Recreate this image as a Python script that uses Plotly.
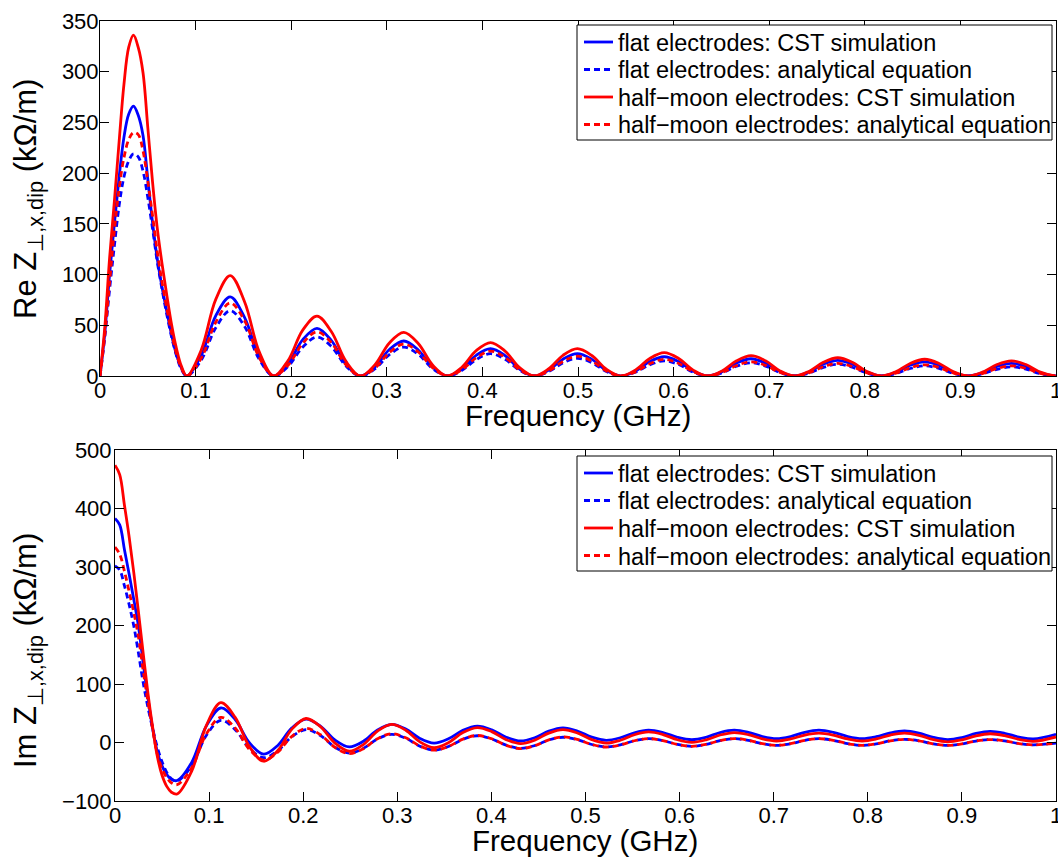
import plotly.graph_objects as go

# ---------------- data ----------------
top_freq = [0, 0.005, 0.010, 0.015, 0.020, 0.025, 0.030, 0.035, 0.040, 0.045, 0.050, 0.055, 0.060,
            0.065, 0.070, 0.075, 0.080, 0.085, 0.0908,
            0.1059, 0.1211, 0.1362, 0.1513, 0.1665, 0.1816,
            0.1967, 0.2119, 0.2270, 0.2421, 0.2573, 0.2724,
            0.2875, 0.3027, 0.3178, 0.3329, 0.3481, 0.3632,
            0.3783, 0.3935, 0.4086, 0.4237, 0.4389, 0.4540,
            0.4691, 0.4843, 0.4994, 0.5145, 0.5297, 0.5448,
            0.5599, 0.5751, 0.5902, 0.6053, 0.6205, 0.6356,
            0.6507, 0.6659, 0.6810, 0.6961, 0.7113, 0.7264,
            0.7415, 0.7567, 0.7718, 0.7869, 0.8021, 0.8172,
            0.8323, 0.8475, 0.8626, 0.8777, 0.8929, 0.9080,
            0.9231, 0.9383, 0.9534, 0.9685, 0.9837, 0.9988, 1.0]

re_flat_cst = [0, 42, 100, 150, 196, 235, 258, 266, 257, 237, 194, 151, 115, 87, 63, 40, 21, 8, 0,
               20.2, 59.4, 78, 57.6, 19.2, 0,
               12.1, 35.6, 47, 34.9, 11.6, 0,
               8.8, 26.1, 34.5, 25.6, 8.5, 0,
               6.9, 20.4, 27, 20.1, 6.7, 0,
               5.6, 16.6, 22, 16.4, 5.4, 0,
               4.8, 14.3, 19, 14.2, 4.7, 0,
               4.3, 12.8, 17, 12.7, 4.2, 0,
               3.9, 11.7, 15.5, 11.6, 3.8, 0,
               3.5, 10.6, 14, 10.5, 3.5, 0,
               3.2, 9.4, 12.5, 9.3, 3.1, 0, 0]

re_flat_ana = [0, 38, 85, 128, 168, 196, 212, 219, 216, 202, 176, 145, 112, 85, 60, 38, 20, 7, 0,
               15.7, 47.5, 64.5, 48.8, 16.5, 0,
               9.4, 28.3, 38.5, 29, 9.8, 0,
               7, 21, 28.5, 21.4, 7.2, 0,
               5.4, 16.2, 22, 16.5, 5.6, 0,
               4.3, 12.9, 17.5, 13.2, 4.4, 0,
               3.7, 11, 15, 11.3, 3.8, 0,
               3.2, 9.6, 13, 9.8, 3.3, 0,
               2.8, 8.5, 11.5, 8.6, 2.9, 0,
               2.4, 7.4, 10, 7.5, 2.5, 0,
               2.2, 6.6, 9, 6.8, 2.3, 0, 0]

re_moon_cst = [0, 48, 116, 172, 231, 287, 324, 336, 324, 299, 245, 191, 145, 110, 79, 50, 27, 10, 0,
               25.6, 75.5, 99, 73, 24, 0,
               15.2, 45, 59, 43.6, 14.4, 0,
               11, 32.6, 43, 32, 10.6, 0,
               8.4, 25, 33, 24.6, 8.2, 0,
               6.9, 20.4, 27, 20.2, 6.7, 0,
               5.8, 17.3, 23, 17.3, 5.8, 0,
               5, 15, 20, 15, 5, 0,
               4.5, 13.5, 18, 13.5, 4.5, 0,
               4.1, 12.4, 16.5, 12.4, 4.1, 0,
               3.8, 11.3, 15, 11.3, 3.8, 0, 0]

re_moon_ana = [0, 40, 92, 143, 185, 215, 233, 240, 238, 222, 192, 158, 122, 92, 66, 42, 22, 8, 0,
               17.6, 53, 72, 54.5, 18.4, 0,
               10.6, 32, 43.5, 32.8, 11, 0,
               7.7, 23.2, 31.5, 23.7, 8, 0,
               6, 18, 24.5, 18.4, 6.2, 0,
               4.8, 14.4, 19.5, 14.7, 4.9, 0,
               4, 12.1, 16.5, 12.4, 4.2, 0,
               3.4, 10.3, 14, 10.5, 3.5, 0,
               3.1, 9.2, 12.5, 9.4, 3.2, 0,
               2.7, 8.1, 11, 8.3, 2.8, 0,
               2.4, 7.4, 10, 7.5, 2.5, 0, 0]

bot_freq = [0, 0.005, 0.010, 0.015, 0.020, 0.025, 0.030, 0.035, 0.040, 0.045, 0.050, 0.055, 0.060, 0.066,
            0.0815, 0.097, 0.1125,
            0.1277, 0.1428, 0.158,
            0.173, 0.188, 0.203,
            0.2183, 0.2337, 0.249,
            0.264, 0.279, 0.294,
            0.309, 0.324, 0.339,
            0.3543, 0.3697, 0.385,
            0.4003, 0.4157, 0.431,
            0.446, 0.461, 0.476,
            0.4913, 0.5067, 0.522,
            0.537, 0.552, 0.567,
            0.5823, 0.5977, 0.613,
            0.628, 0.643, 0.658,
            0.673, 0.688, 0.703,
            0.718, 0.733, 0.748,
            0.7633, 0.7787, 0.794,
            0.809, 0.824, 0.839,
            0.8543, 0.8697, 0.885,
            0.900, 0.915, 0.930,
            0.9453, 0.9607, 0.976,
            1.0]

im_flat_cst = [383, 372, 330, 288, 244, 198, 135, 76, 24, -16, -40, -55, -63, -65,
               -34, 28, 59, 39.3, -0.3, -20, -5, 25, 40, 28.1, 4.3, -7.6,
               2.1, 21.4, 31, 23, 7, -1, 6.3, 20.8, 28, 21.7, 9, 2.6,
               8.2, 19.4, 25, 19.7, 9.1, 3.8, 8.1, 16.7, 21, 17, 9, 5,
               9, 17, 21, 17.4, 10.2, 6.6, 10.2, 17.4, 21, 17.4, 10.2, 6.6,
               9.9, 16.4, 19.7, 16, 8.7, 5, 8.5, 15.5, 19, 15.8, 9.3, 6, 14]

im_flat_ana = [302, 295, 268, 236, 199, 152, 102, 60, 24, -8, -33, -51, -62, -66,
               -40, 12, 38, 22, -10, -26, -14, 10, 22, 12, -8, -18,
               -10, 6, 14, 7.3, -6.3, -13, -6.9, 5.4, 11.5, 6.1, -4.6, -10,
               -5.3, 4.3, 9, 4.9, -3.4, -7.5, -4, 3, 6.5, 3.3, -3.3, -6.5,
               -3.3, 3.3, 6.5, 3.6, -2.1, -5, -2.1, 3.6, 6.5, 3.6, -2.1, -5,
               -2.4, 2.9, 5.5, 2.9, -2.4, -5, -2.5, 2.5, 5, 2.8, -1.8, -4, -1]

im_moon_cst = [474, 458, 406, 352, 290, 222, 152, 84, 26, -24, -56, -75, -85, -88,
               -49, 29, 68, 43, -7, -32, -13.8, 22.8, 41, 27, -1, -15,
               -3.5, 19.5, 31, 21, 1, -9, -0.4, 16.9, 25.5, 18.6, 4.9, -2,
               4, 16, 22, 16.3, 4.8, -1, 3.8, 13.3, 18, 13.6, 4.7, 0.3,
               4.5, 12.8, 17, 13.4, 6.2, 2.6, 6, 12.7, 16, 12.7, 6, 2.6,
               6, 12.7, 16, 12.3, 4.8, 1, 4.5, 11.5, 15, 11.8, 5.3, 2, 9.5]

im_moon_ana = [334, 322, 293, 258, 222, 180, 122, 70, 23, -20, -45, -60, -69, -72,
               -43.3, 14.3, 43, 24.8, -11.8, -30, -16.5, 10.5, 24, 13.3, -8.3, -19,
               -10.5, 6.5, 15, 8, -6, -13, -6.8, 5.8, 12, 6.4, -4.9, -10.5,
               -5.5, 4.5, 9.5, 5.2, -3.4, -7.7, -4.1, 3, 6.6, 3.3, -3.2, -6.5,
               -3.2, 3.3, 6.6, 3.8, -2, -4.8, -2, 3.8, 6.6, 3.8, -2, -4.8,
               -2.2, 2.9, 5.5, 2.9, -2.2, -4.8, -2.4, 2.6, 5, 2.8, -1.8, -4, -1]

series_names = ["flat electrodes: CST simulation",
                "flat electrodes: analytical equation",
                "half\u2212moon electrodes: CST simulation",
                "half\u2212moon electrodes: analytical equation"]

x_tickvals = [0, 0.1, 0.2, 0.3, 0.4, 0.5, 0.6, 0.7, 0.8, 0.9, 1.0]
x_ticktext = ["0", "0.1", "0.2", "0.3", "0.4", "0.5", "0.6", "0.7", "0.8", "0.9", "1"]
re_tickvals = [0, 50, 100, 150, 200, 250, 300, 350]
im_tickvals = [-100, 0, 100, 200, 300, 400, 500]
im_ticktext = ["\u2212100", "0", "100", "200", "300", "400", "500"]

# ---------------- figure ----------------
W, H = 1058, 859
FONT = "Liberation Sans, Arial, Helvetica, sans-serif"
BLUE = "rgb(0,0,255)"
RED = "rgb(255,0,0)"
DASH = "6px,4px"
LW = 2.8

styles = [(BLUE, "solid"), (BLUE, DASH), (RED, "solid"), (RED, DASH)]

fig = go.Figure()
top_sets = [re_flat_cst, re_flat_ana, re_moon_cst, re_moon_ana]
bot_sets = [im_flat_cst, im_flat_ana, im_moon_cst, im_moon_ana]

for name, (col, dash), ys in zip(series_names, styles, top_sets):
    fig.add_trace(go.Scatter(x=top_freq, y=ys, mode="lines", name=name, showlegend=False,
                             line=dict(color=col, width=LW, dash=dash, shape="spline", smoothing=1.0),
                             xaxis="x", yaxis="y"))
for name, (col, dash), ys in zip(series_names, styles, bot_sets):
    fig.add_trace(go.Scatter(x=bot_freq, y=ys, mode="lines", name=name, showlegend=False,
                             line=dict(color=col, width=LW, dash=dash, shape="spline", smoothing=1.0),
                             xaxis="x2", yaxis="y2"))


def px_x(p):
    return p / W


def px_y(p):
    return 1 - p / H


axis_common = dict(showline=True, linecolor="black", linewidth=1, mirror="ticks",
                   ticks="inside", ticklen=9, tickcolor="black", tickwidth=1,
                   showgrid=False, zeroline=False, automargin=False,
                   ticklabeloverflow="allow",
                   tickfont=dict(family=FONT, size=22, color="black"))

fig.update_layout(
    template="none",
    width=W, height=H, autosize=False,
    margin=dict(l=0, r=0, t=0, b=0, pad=0, autoexpand=False),
    paper_bgcolor="white", plot_bgcolor="white",
    font=dict(family=FONT, color="black"),
    xaxis=dict(domain=[px_x(100), px_x(1056)], range=[0, 1], anchor="y",
               tickvals=x_tickvals, ticktext=x_ticktext, ticklabelstandoff=-5, **axis_common),
    yaxis=dict(domain=[px_y(376), px_y(21)], range=[0, 350], anchor="x",
               tickvals=re_tickvals, ticklabelstandoff=-4, **axis_common),
    xaxis2=dict(domain=[px_x(115), px_x(1056)], range=[0, 1], anchor="y2",
                tickvals=x_tickvals, ticktext=x_ticktext, ticklabelstandoff=-5, **axis_common),
    yaxis2=dict(domain=[px_y(801), px_y(450)], range=[-100, 500], anchor="x2",
                tickvals=im_tickvals, ticktext=im_ticktext, ticklabelstandoff=-2, **axis_common),
    showlegend=False,
)

# legends (box, line samples, labels) for both panels
legend_font = dict(family=FONT, size=23.5, color="black")
for top in (25, 456):
    fig.add_shape(type="rect", xref="paper", yref="paper", layer="above",
                  x0=px_x(577), x1=px_x(1052), y0=px_y(top), y1=px_y(top + 115),
                  fillcolor="white", line=dict(color="black", width=1))
    for i, (name, (col, dash)) in enumerate(zip(series_names, styles)):
        row = top + 17 + 27.5 * i
        fig.add_shape(type="line", xref="paper", yref="paper", layer="above",
                      x0=px_x(584), x1=px_x(613), y0=px_y(row), y1=px_y(row),
                      line=dict(color=col, width=LW, dash=dash))
        fig.add_annotation(text=name, xref="paper", yref="paper",
                           x=px_x(616), y=px_y(row + 1), showarrow=False, font=legend_font,
                           xanchor="left", yanchor="middle")

title_font = dict(family=FONT, size=29.5, color="black")
ylab_font = dict(family=FONT, size=31, color="black")
fig.add_annotation(text="Frequency (GHz)", xref="paper", yref="paper",
                   x=px_x(578), y=px_y(415), showarrow=False, font=title_font,
                   xanchor="center", yanchor="middle")
fig.add_annotation(text="Frequency (GHz)", xref="paper", yref="paper",
                   x=px_x(585), y=px_y(840), showarrow=False, font=title_font,
                   xanchor="center", yanchor="middle")
fig.add_annotation(text="Re Z<sub>\u22a5,x,dip</sub> (k\u03a9/m)", xref="paper", yref="paper",
                   x=px_x(28), y=px_y(199), showarrow=False, font=ylab_font,
                   textangle=-90, xanchor="center", yanchor="middle")
fig.add_annotation(text="Im Z<sub>\u22a5,x,dip</sub> (k\u03a9/m)", xref="paper", yref="paper",
                   x=px_x(28), y=px_y(651), showarrow=False, font=ylab_font,
                   textangle=-90, xanchor="center", yanchor="middle")

fig.write_html("out.html", config={"displayModeBar": False},
               post_script="document.body.style.margin='0px';")
